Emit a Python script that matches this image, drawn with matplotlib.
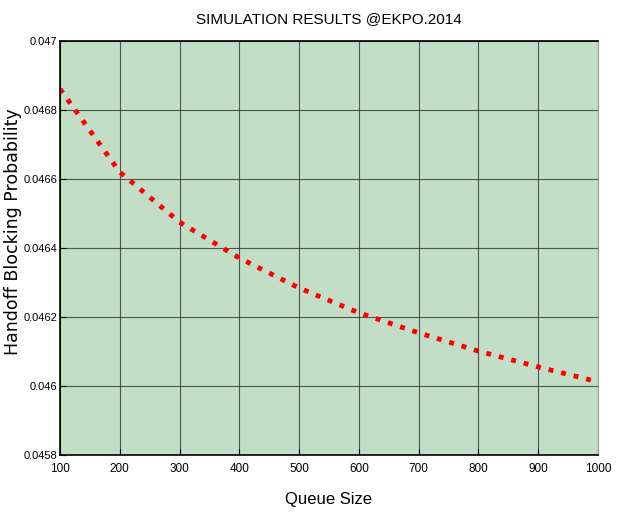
import numpy as np
import matplotlib.pyplot as plt
from matplotlib import font_manager

queue_size = [100, 200, 300, 400, 500, 600, 700, 800, 900, 1000]
blocking_prob = [0.046861, 0.046620, 0.046475, 0.046371, 0.046284,
                 0.046212, 0.046154, 0.046101, 0.046055, 0.046012]

names = {f.name for f in font_manager.fontManager.ttflist}
narrow = 'Liberation Sans Narrow' if 'Liberation Sans Narrow' in names else 'Liberation Sans'

fig = plt.figure(figsize=(6.19, 5.14), dpi=100)
ax = fig.add_axes([0.097, 0.115, 0.869, 0.805])
ax.set_facecolor('#c2dec6')

ax.plot(queue_size, blocking_prob, color='red', linestyle=':', linewidth=3.5)

ax.set_xlim(100, 1000)
ax.set_ylim(0.0458, 0.047)
ax.set_xticks(range(100, 1001, 100))
ax.set_yticks([0.0458, 0.046, 0.0462, 0.0464, 0.0466, 0.0468, 0.047])
ax.set_yticklabels(['0.0458', '0.046', '0.0462', '0.0464', '0.0466', '0.0468', '0.047'])
ax.grid(True, color='#333333', linewidth=0.8, alpha=0.8)
ax.tick_params(direction='in', length=4, labelsize=8, pad=2)
ax.tick_params(axis='x', labelsize=8.5, pad=6)
for lab in ax.get_xticklabels() + ax.get_yticklabels():
    lab.set_fontfamily(narrow)
    lab.set_fontstretch('condensed')

for s in ['left', 'bottom', 'top']:
    ax.spines[s].set_color('black')
    ax.spines[s].set_linewidth(1.2)
ax.spines['right'].set_color('#999999')

ax.set_title('SIMULATION RESULTS @EKPO.2014', fontfamily=narrow, fontsize=11, pad=13)
ax.set_xlabel('Queue Size', fontfamily=narrow, fontsize=12, labelpad=12)
fig.text(0.021, 0.55, 'Handoff Blocking Probability', rotation=90,
         ha='center', va='center', fontfamily='DejaVu Sans', fontsize=12.5)

fig.savefig('out.png', dpi=100)
